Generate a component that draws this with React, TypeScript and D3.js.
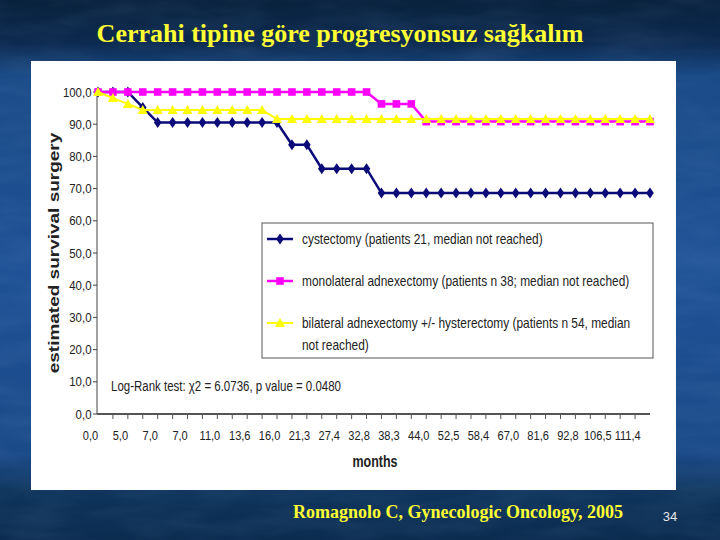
import React from "react";
import * as d3 from "d3";

// tick labels on the month axis (every second step)
const monthLabels = ["0,0", "5,0", "7,0", "7,0", "11,0", "13,6", "16,0", "21,3", "27,4", "32,8", "38,3", "44,0", "52,5", "58,4", "67,0", "81,6", "92,8", "106,5", "111,4"];

// estimated survival per step (38 steps)
const cystectomy = [100, 100, 100, 95.2, 90.5, 90.5, 90.5, 90.5, 90.5, 90.5, 90.5, 90.5, 90.5, 83.6, 83.6, 76.2, 76.2, 76.2, 76.2, 68.6, 68.6, 68.6, 68.6, 68.6, 68.6, 68.6, 68.6, 68.6, 68.6, 68.6, 68.6, 68.6, 68.6, 68.6, 68.6, 68.6, 68.6, 68.6];
const monolateral = [100, 100, 100, 100, 100, 100, 100, 100, 100, 100, 100, 100, 100, 100, 100, 100, 100, 100, 100, 96.3, 96.3, 96.3, 90.8, 90.8, 90.8, 90.8, 90.8, 90.8, 90.8, 90.8, 90.8, 90.8, 90.8, 90.8, 90.8, 90.8, 90.8, 90.8];
const bilateral = [100, 98.1, 96.3, 94.4, 94.4, 94.4, 94.4, 94.4, 94.4, 94.4, 94.4, 94.4, 91.6, 91.6, 91.6, 91.6, 91.6, 91.6, 91.6, 91.6, 91.6, 91.6, 91.6, 91.6, 91.6, 91.6, 91.6, 91.6, 91.6, 91.6, 91.6, 91.6, 91.6, 91.6, 91.6, 91.6, 91.6, 91.6];
const yTicks = [0, 10, 20, 30, 40, 50, 60, 70, 80, 90, 100];

const legendLabels = [
  ["cystectomy (patients 21, median not reached)"],
  ["monolateral adnexectomy (patients n 38; median not reached)"],
  ["bilateral adnexectomy +/- hysterectomy (patients n 54, median", "not reached)"],
];

const SANS = "'Liberation Sans', Arial, sans-serif";
const SERIF = "'Liberation Serif', 'Times New Roman', serif";

const series = [
  { values: cystectomy, color: "#0a0a78", width: 2.5, marker: "diamond" },
  { values: monolateral, color: "#ff00ff", width: 2.5, marker: "square" },
  { values: bilateral, color: "#ffff00", width: 2, marker: "triangle" },
];

const markerPath = (kind: string) => {
  if (kind === "diamond") return "M0,-5.5L3.8,0L0,5.5L-3.8,0Z";
  if (kind === "square") return "M-3.8,-3.8H3.8V3.8H-3.8Z";
  return "M0,-5L5,4H-5Z";
};

// the chart picture is squeezed sideways, so its text is drawn condensed
const NT = ({ x, y, sx = 0.84, size = 14, bold = false, anchor = "start", children }: any) => (
  <text
    transform={`translate(${x},${y}) scale(${sx},1)`}
    textAnchor={anchor}
    fontFamily={SANS}
    fontWeight={bold ? "bold" : "normal"}
    fontSize={size}
    fill="#222"
  >
    {children}
  </text>
);

export default function App() {
  const W = 720;
  const H = 540;
  const n = cystectomy.length;
  const x = d3.scalePoint<number>().domain(d3.range(n)).range([98, 650]);
  const y = d3.scaleLinear().domain([0, 100]).range([414, 92]);
  const step = x.step();
  const line = d3
    .line<number>()
    .x((_, i) => x(i) as number)
    .y((d) => y(d));

  const legendY = [239, 281, 323];

  return (
    <svg width={W} height={H} style={{ position: "absolute", left: 0, top: 0 }}>
      <defs>
        <linearGradient id="bg" x1="0" y1="0" x2="0" y2="1">
          <stop offset="0%" stopColor="#09213d" />
          <stop offset="8%" stopColor="#0c2a4f" />
          <stop offset="14%" stopColor="#1a4a86" />
          <stop offset="50%" stopColor="#1f5196" />
          <stop offset="84%" stopColor="#1b4a88" />
          <stop offset="91%" stopColor="#0e345c" />
          <stop offset="100%" stopColor="#0b2c4f" />
        </linearGradient>
        <filter id="tex" x="0" y="0" width="100%" height="100%">
          <feTurbulence type="fractalNoise" baseFrequency="0.015 0.06" numOctaves="3" seed="4" />
          <feColorMatrix type="matrix" values="0 0 0 0 0.45  0 0 0 0 0.65  0 0 0 0 1  0 0 0 0.5 -0.15" />
        </filter>
      </defs>
      <rect width={W} height={H} fill="url(#bg)" />
      <rect width={W} height={H} filter="url(#tex)" opacity={0.25} />

      <text x={340} y={42} textAnchor="middle" fontFamily={SERIF} fontWeight="bold" fontSize={26} fill="#ffff33">
        Cerrahi tipine göre progresyonsuz sağkalım
      </text>

      <rect x={31} y={61} width={645} height={429} fill="#ffffff" />

      {/* y axis */}
      <line x1={97} x2={97} y1={y(100)} y2={y(0)} stroke="#444" strokeWidth={1} />
      {yTicks.map((t) => (
        <g key={t}>
          <line x1={93} x2={97} y1={y(t)} y2={y(t)} stroke="#444" />
          <NT x={91.5} y={y(t) + 4.5} size={13} sx={0.88} anchor="end">
            {t.toFixed(1).replace(".", ",")}
          </NT>
        </g>
      ))}
      <text transform="translate(59,253) scale(0.8,1) rotate(-90)" textAnchor="middle" fontFamily={SANS} fontWeight="bold" fontSize={19} fill="#222">
        estimated survival surgery
      </text>

      {/* x axis */}
      <line x1={97} x2={650} y1={414} y2={414} stroke="#555" strokeWidth={2} />
      {d3.range(1, n - 1).map((i) => (
        <line key={i} x1={x(i)} x2={x(i)} y1={414} y2={419} stroke="#555" />
      ))}
      {monthLabels.map((lab, k) => (
        <NT key={k} x={(x(k * 2) as number) - step / 2} y={440} size={13} sx={0.85} anchor="middle">
          {lab}
        </NT>
      ))}
      <NT x={375} y={467} size={16} sx={0.78} bold anchor="middle">
        months
      </NT>

      {/* series */}
      {series.map((s, si) => (
        <g key={si}>
          <path d={line(s.values) as string} fill="none" stroke={s.color} strokeWidth={s.width} />
          {s.values.map((v, i) => (
            <path key={i} transform={`translate(${x(i)},${y(v)})`} d={markerPath(s.marker)} fill={s.color} />
          ))}
        </g>
      ))}

      {/* legend */}
      <rect x={262} y={223} width={391} height={135} fill="#fff" stroke="#555" strokeWidth={1} />
      {series.map((s, si) => (
        <g key={si}>
          <line x1={267} x2={293} y1={legendY[si]} y2={legendY[si]} stroke={s.color} strokeWidth={s.width} />
          <path transform={`translate(280,${legendY[si]})`} d={markerPath(s.marker)} fill={s.color} />
          {legendLabels[si].map((t, li) => (
            <NT key={li} x={302} y={legendY[si] + 5 + li * 22} size={14} sx={0.85}>
              {t}
            </NT>
          ))}
        </g>
      ))}

      <NT x={111} y={391} size={14} sx={0.82}>
        Log-Rank test: χ2 = 6.0736, p value = 0.0480
      </NT>

      <text x={293} y={518} fontFamily={SERIF} fontWeight="bold" fontSize={18} fill="#ffff33">
        Romagnolo C, Gynecologic Oncology, 2005
      </text>
      <text x={670} y={521} textAnchor="middle" fontFamily={SANS} fontSize={13} fill="#e8e8e8">
        34
      </text>
    </svg>
  );
}
